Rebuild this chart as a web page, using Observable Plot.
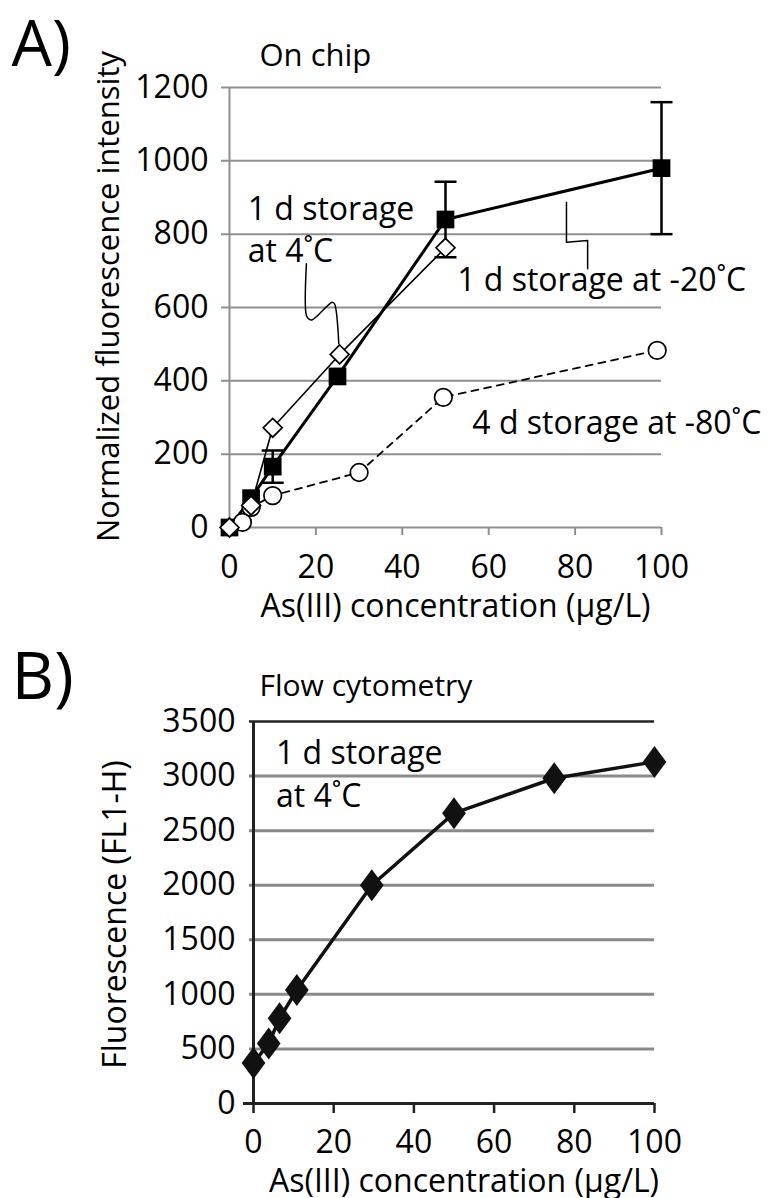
<!DOCTYPE html>
<html><head><meta charset="utf-8">
<script src="https://cdn.jsdelivr.net/npm/d3@7"></script>
<script src="https://cdn.jsdelivr.net/npm/@observablehq/plot@0.6"></script>
<style>
body{margin:0;background:#fff;}
#chart{width:769px;height:1198px;overflow:hidden;}
#chart svg{display:block;}
</style></head><body><div id="chart"></div>
<script>
// ---------- Panel A: On chip ----------
const concM20 = [0, 5, 10, 25, 50, 100];
const valM20  = [0, 80, 166, 412, 840, 980];
const errM20  = [0, 0, 44, 0, 103, 180];
const conc4   = [0, 5, 10, 25.5, 50];
const val4    = [0, 60, 272, 472, 763];
const concM80 = [3, 5, 10, 30, 49.5, 99];
const valM80  = [14, 55, 87, 150, 355, 483];
const ticksXA = [0, 20, 40, 60, 80, 100];
const ticksYA = [0, 200, 400, 600, 800, 1000, 1200];
const notesA  = [
  {x: 4.2, y: 840, text: "1 d storage"},
  {x: 4.2, y: 724, text: "at 4˚C"},
  {x: 52.7, y: 645, text: "1 d storage at -20˚C"},
  {x: 56.2, y: 254, text: "4 d storage at -80˚C"}
];
const leader4Cx = [17.8, 17.8, 18.4, 19.1, 23.8, 24.3, 25.3];
const leader4Cy = [719, 578, 568, 566, 614, 610, 501];
const leaderM20x = [78.0, 78.0, 82.9, 82.9];
const leaderM20y = [887, 778, 783, 706];

// ---------- Panel B: Flow cytometry ----------
const concB = [0, 3.8, 6.5, 10.8, 29.5, 50, 75, 100];
const valB  = [370, 550, 780, 1040, 2000, 2660, 2980, 3130];
const ticksXB = [0, 20, 40, 60, 80, 100];
const ticksYB = [0, 500, 1000, 1500, 2000, 2500, 3000, 3500];
const notesB = [
  {x: 5.6, y: 3114, text: "1 d storage"},
  {x: 5.6, y: 2716, text: "at 4˚C"}
];

const FONT = "Open Sans";
const FS = 31;
const NOTE_FS = 32;
const zip = (xs, ys) => xs.map((x, i) => ({x, y: ys[i]}));
const sqA = concM20.map((x, i) => ({x, y: valM20[i], e: errM20[i]}));
const dA = zip(conc4, val4);
const cA = zip(concM80, valM80);
const errA = sqA.filter(d => d.e > 0);
const capSymbol = {draw(ctx, size) { const w = Math.sqrt(size); ctx.moveTo(-w, 0); ctx.lineTo(w, 0); }};
const tallDiamond = {draw(ctx, size) {
  const h = Math.sqrt(size) * 0.86, w = h * 0.74;
  ctx.moveTo(0, -h); ctx.lineTo(w, 0); ctx.lineTo(0, h); ctx.lineTo(-w, 0); ctx.closePath();
}};
const GRID_A = "#8f8f8f";
const GRID_B = "#8a8a8a";

const plotA = Plot.plot({
  width: 769, height: 625,
  marginLeft: 229, marginRight: 108, marginTop: 87, marginBottom: 98,
  style: {fontFamily: FONT, fontSize: FS + "px", background: "white", color: "black", overflow: "visible"},
  x: {domain: [0, 100], axis: null},
  y: {domain: [0, 1200], axis: null},
  marks: [
    Plot.ruleY(ticksYA, {stroke: GRID_A, strokeWidth: 2, insetLeft: -8}),
    Plot.ruleX([0], {stroke: GRID_A, strokeWidth: 2}),
    Plot.axisX({ticks: ticksXA, tickSize: 8, tickPadding: 20, stroke: GRID_A, strokeWidth: 2, fill: "black", fontSize: 32, tickFormat: d => String(d), label: null}),
    Plot.axisY({ticks: ticksYA, tickSize: 0, tickPadding: 21, fill: "black", fontSize: 32, tickFormat: d => String(d), label: null}),
    Plot.text(["A)"], {frameAnchor: "top-left", dx: -218, dy: -22, textAnchor: "start", lineAnchor: "bottom", fontSize: 64, text: d => d}),
    Plot.text(["On chip"], {frameAnchor: "top-left", dx: 30, dy: -22, textAnchor: "start", lineAnchor: "bottom", fontSize: 31, text: d => d}),
    Plot.text(["As(III) concentration (µg/L)"], {frameAnchor: "bottom", dx: 10, dy: 89, textAnchor: "middle", lineAnchor: "bottom", fontSize: 32, text: d => d}),
    Plot.text(["Normalized fluorescence intensity"], {frameAnchor: "left", dx: -120, dy: -11, rotate: -90, textAnchor: "middle", lineAnchor: "middle", fontSize: 31, text: d => d}),
    Plot.line(cA, {x: "x", y: "y", stroke: "black", strokeWidth: 1.8, strokeDasharray: "7,6"}),
    Plot.line(dA, {x: "x", y: "y", stroke: "black", strokeWidth: 1.6}),
    Plot.line(sqA, {x: "x", y: "y", stroke: "black", strokeWidth: 3}),
    Plot.line(zip(leader4Cx, leader4Cy), {x: "x", y: "y", stroke: "black", strokeWidth: 1.5, curve: "catmull-rom"}),
    Plot.line(zip(leaderM20x, leaderM20y), {x: "x", y: "y", stroke: "black", strokeWidth: 1.5}),
    Plot.ruleX(errA, {x: "x", y1: d => d.y - d.e, y2: d => d.y + d.e, stroke: "black", strokeWidth: 2.5}),
    Plot.dot(errA, {x: "x", y: d => d.y + d.e, symbol: capSymbol, r: 6.2, stroke: "black", strokeWidth: 2.5, fill: "none"}),
    Plot.dot(errA, {x: "x", y: d => d.y - d.e, symbol: capSymbol, r: 6.2, stroke: "black", strokeWidth: 2.5, fill: "none"}),
    Plot.dot(sqA, {x: "x", y: "y", symbol: "square", r: 10, fill: "black", stroke: "none"}),
    Plot.dot(cA, {x: "x", y: "y", symbol: "circle", r: 8.8, fill: "white", stroke: "black", strokeWidth: 1.7}),
    Plot.dot(dA, {x: "x", y: "y", symbol: "diamond2", r: 8.5, fill: "white", stroke: "black", strokeWidth: 1.7}),
    Plot.text(notesA, {x: "x", y: "y", text: "text", textAnchor: "start", lineAnchor: "bottom", fontSize: NOTE_FS})
  ]
});

const plotB = Plot.plot({
  width: 769, height: 573,
  marginLeft: 253, marginRight: 115, marginTop: 96, marginBottom: 95,
  style: {fontFamily: FONT, fontSize: FS + "px", background: "white", color: "black", overflow: "visible"},
  x: {domain: [0, 100], axis: null},
  y: {domain: [0, 3500], axis: null},
  marks: [
    Plot.ruleY(ticksYB.filter(v => v > 0 && v < 3500), {stroke: GRID_B, strokeWidth: 3, insetLeft: -4}),
    Plot.ruleY([3500], {stroke: "#222", strokeWidth: 2.5, insetLeft: -4}),
    Plot.ruleY([0], {stroke: "#222", strokeWidth: 3, insetLeft: -10}),
    Plot.ruleX([0], {stroke: "#222", strokeWidth: 3}),
    Plot.axisX({ticks: ticksXB, tickSize: 10, tickPadding: 17, stroke: "#222", strokeWidth: 2.5, fill: "black", fontSize: 32, tickFormat: d => String(d), label: null}),
    Plot.axisY({ticks: ticksYB, tickSize: 0, tickPadding: 18, fill: "black", fontSize: 32, tickFormat: d => String(d), label: null}),
    Plot.text(["B)"], {frameAnchor: "top-left", dx: -242, dy: -23, textAnchor: "start", lineAnchor: "bottom", fontSize: 66, text: d => d}),
    Plot.text(["Flow cytometry"], {frameAnchor: "top-left", dx: 6, dy: -26, textAnchor: "start", lineAnchor: "bottom", fontSize: 30, text: d => d}),
    Plot.text(["As(III) concentration (µg/L)"], {frameAnchor: "bottom", dx: 10, dy: 88, textAnchor: "middle", lineAnchor: "bottom", fontSize: 32, text: d => d}),
    Plot.text(["Fluorescence (FL1-H)"], {frameAnchor: "left", dx: -138, dy: 2, rotate: -90, textAnchor: "middle", lineAnchor: "middle", fontSize: 32, text: d => d}),
    Plot.line(zip(concB, valB), {x: "x", y: "y", stroke: "#111", strokeWidth: 3.5}),
    Plot.dot(zip(concB, valB), {x: "x", y: "y", symbol: tallDiamond, r: 10.5, fill: "#111", stroke: "none"}),
    Plot.text(notesB, {x: "x", y: "y", text: "text", textAnchor: "start", lineAnchor: "bottom", fontSize: NOTE_FS})
  ]
});

const root = document.getElementById("chart");
root.appendChild(plotA);
root.appendChild(plotB);
</script>
</body></html>
